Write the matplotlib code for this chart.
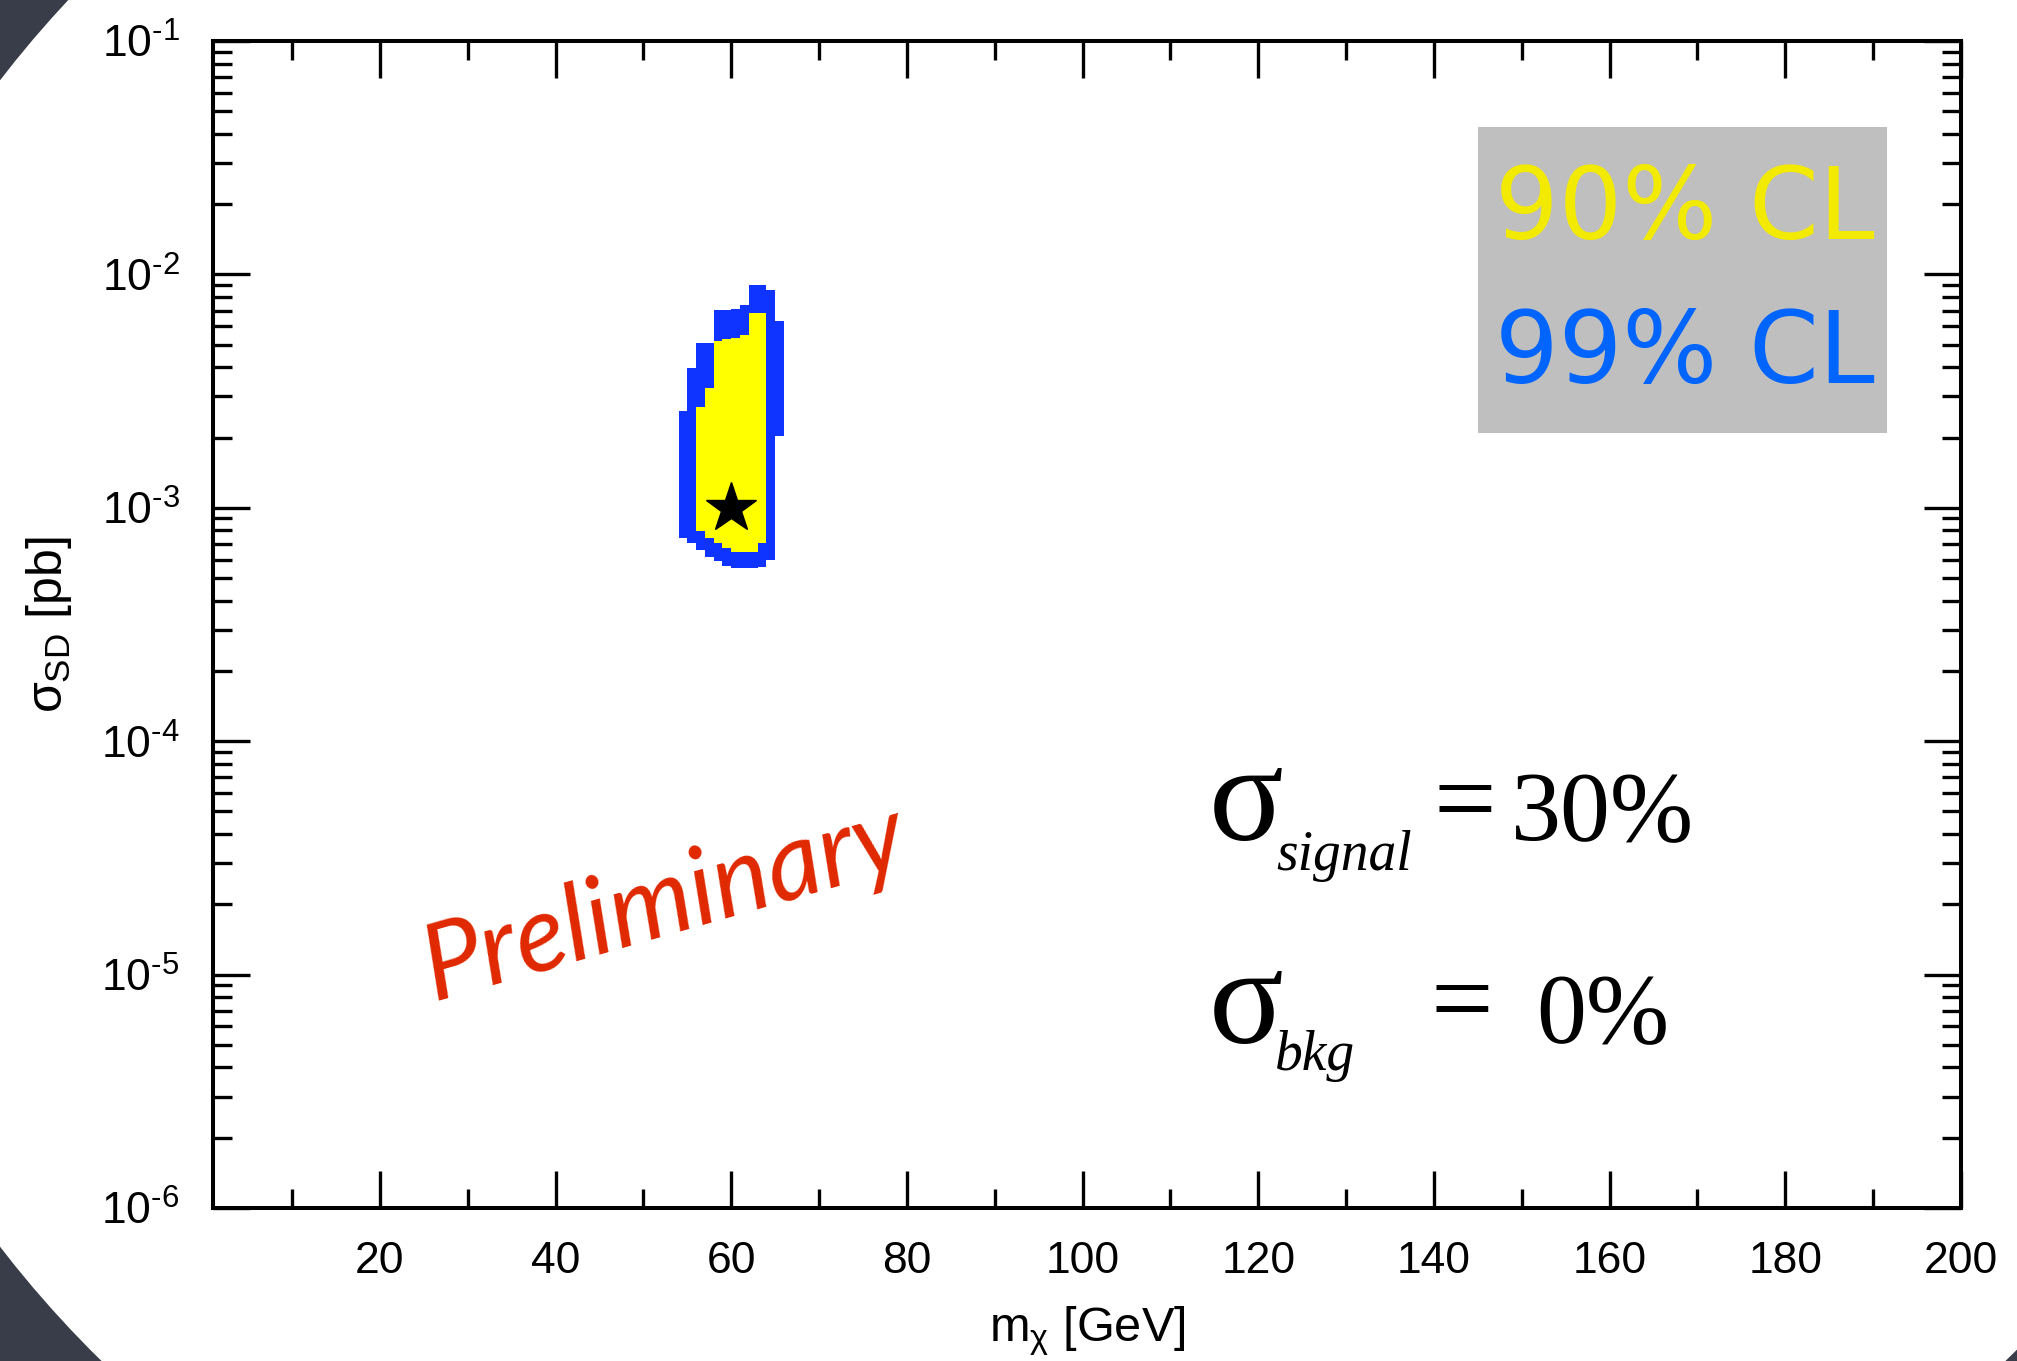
import matplotlib
matplotlib.use("Agg")
import numpy as np
import matplotlib.pyplot as plt
from matplotlib.patches import Ellipse, Rectangle
from matplotlib.ticker import FixedLocator, MultipleLocator, LogLocator, FuncFormatter, NullFormatter

plt.rcParams['font.family'] = ['Liberation Sans', 'DejaVu Sans']
plt.rcParams['mathtext.fontset'] = 'custom'
plt.rcParams['mathtext.rm'] = 'Liberation Sans'
plt.rcParams['mathtext.it'] = 'Liberation Sans'
plt.rcParams['mathtext.bf'] = 'Liberation Sans:bold'

# ---- data -------------------------------------------------------------
# 99% CL allowed region: 1 GeV mass bins (left edges) with sigma range [pb]
mass_99 = [54, 55, 56, 57, 58, 59, 60, 61, 62, 63, 64, 65]
sigma_99_low = [7.45e-4, 7.05e-4, 6.59e-4, 6.17e-4, 5.92e-4, 5.65e-4,
                5.53e-4, 5.51e-4, 5.51e-4, 5.60e-4, 5.97e-4, 2.03e-3]
sigma_99_high = [2.61e-3, 3.96e-3, 5.07e-3, 5.07e-3, 7.04e-3, 7.04e-3,
                 7.11e-3, 7.40e-3, 9.02e-3, 9.02e-3, 8.57e-3, 6.31e-3]

# 90% CL allowed region
mass_90 = [56, 57, 58, 59, 60, 61, 62, 63]
sigma_90_low = [7.96e-4, 7.40e-4, 7.05e-4, 6.75e-4, 6.49e-4, 6.49e-4, 6.49e-4, 7.05e-4]
sigma_90_high = [2.71e-3, 3.25e-3, 5.20e-3, 5.28e-3, 5.36e-3, 5.50e-3, 6.85e-3, 6.85e-3]

# benchmark point
bench_mass = [60]
bench_sigma = [1e-3]

x_ticks = [20, 40, 60, 80, 100, 120, 140, 160, 180, 200]
y_decades = [1e-6, 1e-5, 1e-4, 1e-3, 1e-2, 1e-1]

BIN_WIDTH = 1.0
BLUE = '#1034ff'
YELLOW = '#ffff00'
SLIDE_DARK = '#393d49'

W, H = 2017, 1361
fig = plt.figure(figsize=(W / 100, H / 100), dpi=100)
fig.patch.set_facecolor(SLIDE_DARK)

# slide backdrop: white oval on dark background
bg = fig.add_axes([0, 0, 1, 1])
bg.set_xlim(0, W)
bg.set_ylim(H, 0)
bg.axis('off')
bg.add_patch(Ellipse((1053.5, 663.5), 2 * 1258, 2 * 1067,
                     facecolor='white', edgecolor='none'))

ax = fig.add_axes([213 / W, 1 - 1208 / H, 1748 / W, 1167 / H])
ax.set_facecolor('white')
ax.set_yscale('log')
ax.set_xlim(1, 200)
ax.set_ylim(y_decades[0], y_decades[-1])

lo99 = np.array(sigma_99_low)
hi99 = np.array(sigma_99_high)
lo90 = np.array(sigma_90_low)
hi90 = np.array(sigma_90_high)
ax.bar(mass_99, hi99 - lo99, bottom=lo99, width=BIN_WIDTH, align='edge',
       color=BLUE, linewidth=0, zorder=2)
ax.bar(mass_90, hi90 - lo90, bottom=lo90, width=BIN_WIDTH, align='edge',
       color=YELLOW, linewidth=0, zorder=3)
ax.plot(bench_mass, bench_sigma, marker='*', color='black', markersize=38,
        linestyle='none', zorder=4)

# axes styling
for sp in ax.spines.values():
    sp.set_linewidth(2.9)
ax.xaxis.set_major_locator(FixedLocator(x_ticks))
ax.xaxis.set_minor_locator(MultipleLocator(10))
ax.yaxis.set_major_locator(FixedLocator(y_decades))
ax.yaxis.set_minor_locator(LogLocator(base=10, subs=np.arange(2, 10), numticks=30))
ax.yaxis.set_minor_formatter(NullFormatter())
ax.yaxis.set_major_formatter(FuncFormatter(
    lambda v, p: r'$\mathdefault{10^{\text{-}%d}}$' % int(round(-np.log10(v)))))
ax.xaxis.set_major_formatter(FuncFormatter(lambda v, p: '%d' % v))
ax.tick_params(which='both', direction='in', top=True, right=True,
               width=2.4, labelsize=32, colors='black')
ax.tick_params(which='major', length=26.6)
ax.tick_params(which='minor', length=13.7)
ax.tick_params(axis='x', pad=24)
ax.tick_params(axis='y', pad=24)

ax.set_xlabel(r'm$_{\chi}$ [GeV]', fontsize=35)
ax.xaxis.label.set_verticalalignment('center')
ax.xaxis.set_label_coords(0.5, -0.1058)
ax.set_ylabel(r'$\sigma_{\mathrm{SD}}$ [pb]', fontsize=36)
ax.yaxis.label.set_verticalalignment('center')
ax.yaxis.set_label_coords(-0.0938, 0.5)

# confidence level key
ax.add_patch(Rectangle((0.7237, 0.6641), 0.234, 0.2622, transform=ax.transAxes,
                       facecolor='#bfbfbf', edgecolor='none', zorder=5))
ax.text(0.7334, 0.8535, '90% CL', transform=ax.transAxes, color='#f2ea00',
        fontsize=72, family='DejaVu Sans', ha='left', va='center', zorder=6)
ax.text(0.7334, 0.7309, '99% CL', transform=ax.transAxes, color='#0064ff',
        fontsize=72, family='DejaVu Sans', ha='left', va='center', zorder=6)

# systematic uncertainty annotation
serif = 'Liberation Serif'
ax.text(0.5912, 0.3153, '\u03c3', transform=ax.transAxes, fontsize=100,
        family=serif, ha='center', va='baseline')
ax.text(0.6085, 0.2896, 'signal', transform=ax.transAxes, fontsize=40,
        family=serif, style='italic', ha='left', va='baseline')
ax.text(0.7162, 0.3200, '=', transform=ax.transAxes, fontsize=80,
        family=serif, ha='center', va='baseline')
ax.text(0.7949, 0.3153, '30%', transform=ax.transAxes, fontsize=72,
        family=serif, ha='center', va='baseline')

ax.text(0.5912, 0.1414, '\u03c3', transform=ax.transAxes, fontsize=100,
        family=serif, ha='center', va='baseline')
ax.text(0.6073, 0.1183, 'bkg', transform=ax.transAxes, fontsize=40,
        family=serif, style='italic', ha='left', va='baseline')
ax.text(0.7145, 0.1482, '=', transform=ax.transAxes, fontsize=80,
        family=serif, ha='center', va='baseline')
ax.text(0.7952, 0.1422, '0%', transform=ax.transAxes, fontsize=72,
        family=serif, ha='center', va='baseline')

# draft stamp
ax.text(0.2586, 0.2614, 'Preliminary', transform=ax.transAxes, fontsize=76,
        family=['Lato', 'DejaVu Sans'], style='italic', weight='normal',
        color='#e02800', rotation=16, ha='center', va='center')

fig.savefig('out.png', dpi=100, facecolor=fig.get_facecolor())
